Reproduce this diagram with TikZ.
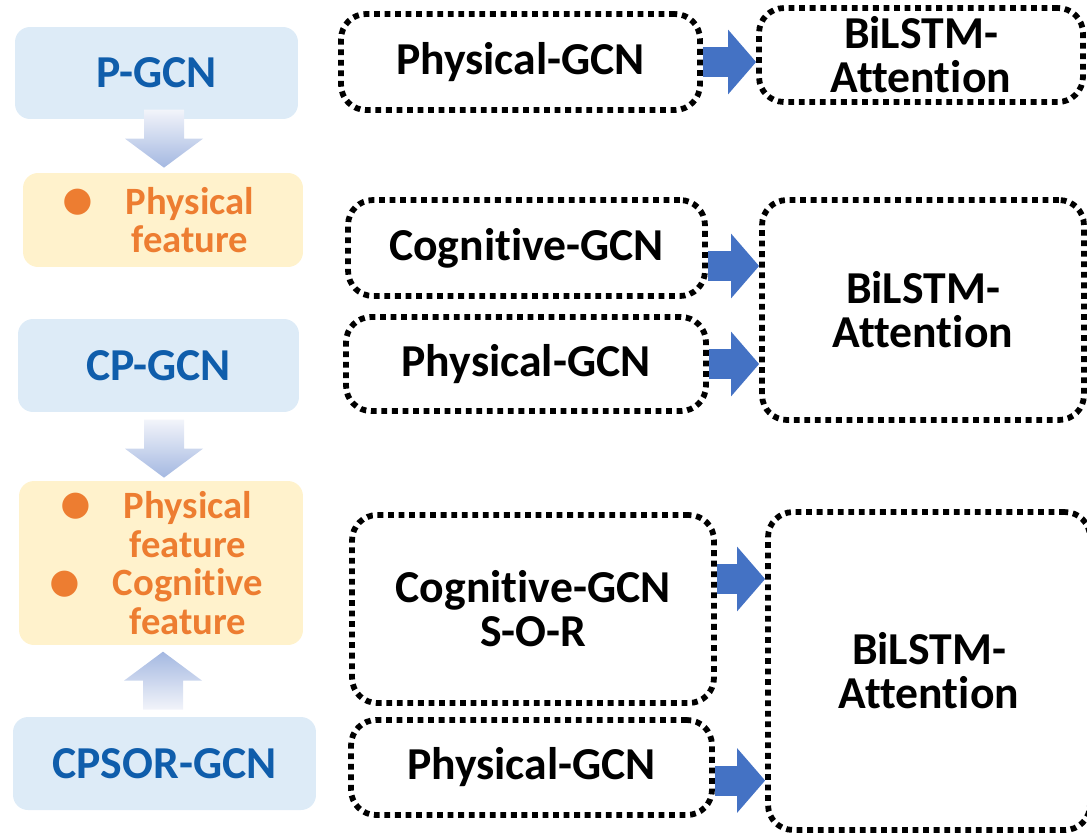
\documentclass[tikz,border=0pt]{standalone}
\usepackage{graphicx}
\usepackage{fontspec}
\setmainfont{Carlito}[RawFeature={-liga;-clig;-calt;-dlig}]
\usetikzlibrary{calc, arrows.meta}
\definecolor{boxblue}{HTML}{DDEBF7}
\definecolor{txtblue}{HTML}{0F5DAB}
\definecolor{featfill}{HTML}{FFF2CC}
\definecolor{featorange}{HTML}{ED7D31}
\definecolor{arrowblue}{HTML}{4472C4}
\definecolor{gradlight}{HTML}{F2F4FA}
\definecolor{gradblue}{HTML}{A4B8E1}
\newcommand{\fgap}{\hspace*{1.08cm}}
\newcommand{\feat}[1]{\fgap\llap{\raisebox{-0.14em}{\scalebox{1.6}{\textbullet}}\hspace{0.66cm}}#1}
\tikzset{
  gcnbox/.style={fill=boxblue, rounded corners=0.3cm, text=txtblue,
    font=\bfseries\fontsize{26}{25}\selectfont},
  featbox/.style={fill=featfill, rounded corners=0.3cm, text=featorange, inner xsep=0pt,
    align=center, font=\bfseries\fontsize{22}{22}\selectfont},
  dotbox/.style={draw, line width=3.3pt, dash pattern=on 3.3pt off 2.7pt, rounded corners=0.5cm,
    align=center, font=\bfseries\fontsize{26}{25}\selectfont},
  bluearrow/.style={draw=arrowblue, line width=0.6cm, -{Triangle[length=0.56cm,width=1.26cm]}},
  pics/fatdown/.style={code={
    \shade[top color=gradlight, bottom color=gradblue]
      (-20,0) -- (20,0) -- (20,29) -- (39,29) -- (0,58) -- (-39,29) -- (-20,29) -- cycle;}},
  pics/fatup/.style={code={
    \shade[top color=gradblue, bottom color=gradlight]
      (-20,0) -- (20,0) -- (20,-29) -- (39,-29) -- (0,-58) -- (-39,-29) -- (-20,-29) -- cycle;}}
}

\begin{document}
\begin{tikzpicture}[x=0.02cm, y=-0.02cm]
\useasboundingbox (0,0) rectangle (1087,835);
\node[gcnbox, minimum width=5.66cm, minimum height=1.84cm] (pg) at (156.5,73) {P-GCN};
\node[featbox, text width=5.6cm, minimum height=1.88cm] (pf1) at (163,220) {\feat{Physical}\\\fgap feature};
\node[gcnbox, minimum width=5.62cm, minimum height=1.86cm] (cpg) at (158.5,365.5) {CP-GCN};
\node[featbox, text width=5.68cm, minimum height=3.28cm] (pf2) at (161,563)
  {\feat{Physical}\\\fgap feature\\\feat{Cognitive}\\\fgap feature};
\node[gcnbox, minimum width=6.06cm, minimum height=1.86cm] (cps) at (164.5,763.5) {CPSOR-GCN};
\pic at ($(pf1.north)+(1,-63)$) {fatdown};
\pic at ($(pf2.north)+(3,-61)$) {fatdown};
\pic at ($(cps.north)+(-1.5,-7)$) {fatup};

\node[dotbox, minimum width=7.18cm, minimum height=1.92cm] (phy1) at (520.5,62) {Physical-GCN};
\node[dotbox, minimum width=6.48cm, minimum height=1.88cm] (bl1) at (921,55) {BiLSTM-\\Attention};
\node[dotbox, minimum width=7.14cm, minimum height=1.92cm] (cog2) at (526.5,248) {Cognitive-GCN};
\node[dotbox, minimum width=7.2cm, minimum height=1.88cm] (phy2) at (526,364) {Physical-GCN};
\node[dotbox, minimum width=6.44cm, minimum height=4.4cm] (bl2) at (923,310) {BiLSTM-\\Attention};
\node[dotbox, minimum width=7.24cm, minimum height=3.76cm] (cog3) at (533,609) {Cognitive-GCN\\S-O-R};
\node[dotbox, minimum width=7.22cm, minimum height=1.9cm] (phy3) at (531.5,767.5) {Physical-GCN};
\node[dotbox, minimum width=6.44cm, minimum height=6.36cm] (bl3) at (929,671) {BiLSTM-\\Attention};

\coordinate (a1) at ($(cog2.east)+(0,18)$);
\coordinate (a2) at ($(cog3.east)+(0,-30)$);
\coordinate (a3) at ($(phy3.east)+(0,13)$);
\draw[bluearrow] (phy1.east) -- (phy1.east -| bl1.west);
\draw[bluearrow] (a1) -- (a1 -| bl2.west);
\draw[bluearrow] (phy2.east) -- (phy2.east -| bl2.west);
\draw[bluearrow] (a2) -- (a2 -| bl3.west);
\draw[bluearrow] (a3) -- (a3 -| bl3.west);
\end{tikzpicture}
\end{document}
